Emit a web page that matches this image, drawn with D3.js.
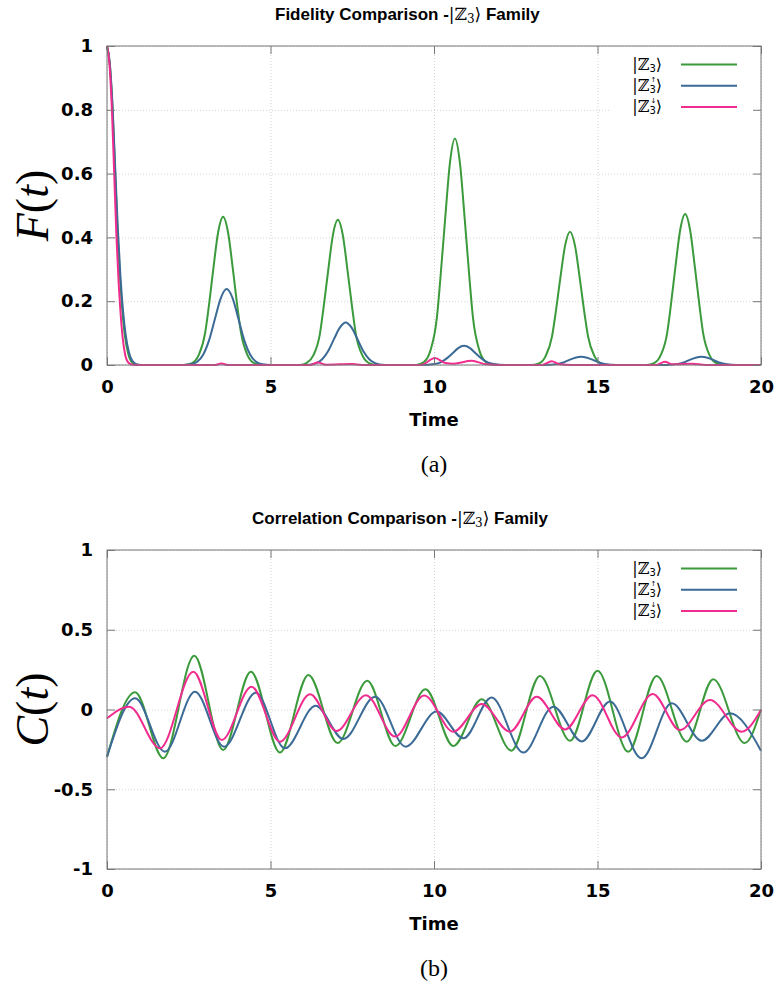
<!DOCTYPE html>
<html lang="en">
<head>
<meta charset="UTF-8"/>
<title>Z3 family fidelity and correlation</title>
<script src="https://d3js.org/d3.v7.min.js"></script>
<style>
  body { margin: 0; background: #fff; }
  svg { display: block; }
  .tick text { font-family: "DejaVu Sans", sans-serif; font-weight: bold; font-size: 18px; fill: #000; }
</style>
</head>
<body>
<script>
// time ticks shared by both panels
var timeTicks = [0, 5, 10, 15, 20];
var fidTicks = [0, 0.2, 0.4, 0.6, 0.8, 1];
var corTicks = [-1, -0.5, 0, 0.5, 1];
var seriesColors = ["#3b9a3b", "#3a6a95", "#f02d8e"];

// fidelity F(t) as [t, F]
var fidZ3 = [[0,1],[0.08,0.95],[0.17,0.8],[0.25,0.6],[0.32,0.42],[0.4,0.27],[0.47,0.17],[0.55,0.09],[0.65,0.035],[0.75,0.01],[0.9,0.001],[1.1,0],
  [2.35,0],[2.6,0.006],[2.8,0.03],[3.0,0.1],[3.1,0.173],[3.25,0.3],[3.4,0.417],[3.55,0.465],[3.7,0.417],[3.85,0.3],[4.0,0.173],[4.1,0.1],[4.3,0.03],[4.5,0.006],[4.75,0],
  [5.9,0],[6.1,0.006],[6.31,0.03],[6.51,0.097],[6.61,0.17],[6.76,0.293],[6.91,0.408],[7.06,0.455],[7.21,0.408],[7.36,0.293],[7.51,0.17],[7.61,0.097],[7.81,0.03],[8.01,0.006],[8.25,0],
  [9.45,0],[9.69,0.009],[9.89,0.045],[10.09,0.15],[10.19,0.265],[10.34,0.457],[10.49,0.636],[10.64,0.71],[10.79,0.636],[10.94,0.457],[11.09,0.265],[11.19,0.15],[11.39,0.045],[11.59,0.009],[11.85,0],
  [12.95,0],[13.21,0.005],[13.41,0.027],[13.61,0.09],[13.71,0.156],[13.86,0.27],[14.01,0.375],[14.16,0.418],[14.31,0.375],[14.46,0.27],[14.61,0.156],[14.71,0.09],[14.91,0.027],[15.11,0.005],[15.35,0],
  [16.5,0],[16.73,0.006],[16.93,0.03],[17.13,0.1],[17.23,0.176],[17.38,0.305],[17.53,0.424],[17.68,0.473],[17.83,0.424],[17.98,0.305],[18.13,0.176],[18.23,0.1],[18.43,0.03],[18.63,0.006],[18.9,0],[20,0]];

var fidZ3up = [[0,1],[0.08,0.95],[0.17,0.81],[0.25,0.62],[0.33,0.43],[0.41,0.28],[0.49,0.17],[0.57,0.095],[0.67,0.04],[0.78,0.012],[0.92,0.002],[1.15,0],
  [2.31,0],[2.56,0.002],[2.76,0.01],[2.94,0.032],[3.12,0.077],[3.3,0.144],[3.48,0.21],[3.66,0.238],[3.84,0.21],[4.02,0.144],[4.2,0.077],[4.38,0.032],[4.56,0.01],[4.76,0.002],[5.01,0],
  [5.95,0],[6.2,0.001],[6.4,0.006],[6.58,0.018],[6.76,0.043],[6.94,0.081],[7.12,0.117],[7.3,0.133],[7.48,0.117],[7.66,0.081],[7.84,0.043],[8.02,0.018],[8.2,0.006],[8.4,0.001],[8.65,0],
  [9.6,0],[10.02,0.003],[10.2,0.008],[10.38,0.02],[10.56,0.036],[10.74,0.053],[10.92,0.06],[11.1,0.053],[11.28,0.036],[11.46,0.02],[11.64,0.008],[11.82,0.003],[12.2,0],
  [13.4,0],[13.78,0.0035],[13.96,0.008],[14.14,0.016],[14.32,0.023],[14.5,0.026],[14.68,0.023],[14.86,0.016],[15.04,0.008],[15.22,0.0035],[15.6,0],
  [17.1,0],[17.46,0.0035],[17.64,0.008],[17.82,0.016],[18.0,0.023],[18.18,0.026],[18.36,0.023],[18.54,0.016],[18.72,0.008],[18.9,0.0035],[19.3,0],[20,0]];

var fidZ3down = [[0,1],[0.07,0.95],[0.15,0.8],[0.22,0.6],[0.29,0.4],[0.36,0.25],[0.41,0.17],[0.48,0.085],[0.56,0.03],[0.65,0.008],[0.78,0.001],[0.95,0],
  [3.3,0],[3.5,0.005],[3.7,0],[6.2,0],[6.45,0.008],[6.7,0.001],[7.5,0.003],[7.8,0],[9.6,0],[10.03,0.022],[10.35,0.006],[10.6,0.004],[11.15,0.013],[11.6,0.002],[12,0],
  [13.3,0],[13.6,0.012],[13.85,0.002],[14.2,0],[16.8,0],[17.06,0.01],[17.3,0.002],[17.9,0.004],[18.3,0],[20,0]];

// correlation C(t), turning points as [t, C]
var corZ3 = [[0,-0.297],[0.86,0.108],[1.72,-0.305],[2.67,0.337],[3.55,-0.254],[4.4,0.237],[5.29,-0.27],[6.16,0.216],[7.05,-0.21],[7.96,0.18],[8.82,-0.229],[9.74,0.127],[10.59,-0.229],[11.46,0.064],[12.37,-0.258],[13.24,0.21],[14.16,-0.196],[15.0,0.243],[15.94,-0.265],[16.81,0.21],[17.73,-0.202],[18.54,0.19],[19.5,-0.21],[20,0.0]];
var corZ3up = [[0,-0.296],[0.86,0.07],[1.77,-0.265],[2.69,0.112],[3.58,-0.233],[4.55,0.105],[5.44,-0.243],[6.38,0.024],[7.23,-0.185],[8.2,0.08],[9.13,-0.233],[10.08,-0.013],[10.9,-0.18],[11.76,0.075],[12.73,-0.27],[13.65,0.018],[14.52,-0.2],[15.38,0.05],[16.35,-0.306],[17.27,0.039],[18.19,-0.196],[19.05,-0.024],[20,-0.258]];
var corZ3down = [[0,-0.055],[0.68,0.018],[1.62,-0.243],[2.64,0.237],[3.51,-0.191],[4.42,0.143],[5.29,-0.202],[6.21,0.095],[7.02,-0.135],[7.92,0.09],[8.81,-0.17],[9.7,0.088],[10.59,-0.139],[11.46,0.034],[12.32,-0.139],[13.14,0.08],[14.01,-0.125],[14.85,0.09],[15.74,-0.175],[16.69,0.097],[17.52,-0.129],[18.44,0.06],[19.41,-0.139],[20,-0.003]];

var W = 777, H = 992;
var svg = d3.select("body").append("svg").attr("width", W).attr("height", H);

var left = 107, right = 761;

function panel(opts) {
  var g = svg.append("g");
  var x = d3.scaleLinear().domain([0, 20]).range([left, right]);
  var y = d3.scaleLinear().domain(opts.ydom).range([opts.bottom, opts.top]);
  var pw = right - left, ph = opts.bottom - opts.top;

  // dotted grid
  g.append("g").attr("transform", "translate(0," + opts.bottom + ")")
    .call(d3.axisBottom(x).tickValues(timeTicks).tickSize(-ph).tickFormat(""))
    .call(function(a){ a.select(".domain").remove(); a.selectAll("line").attr("stroke", "#d4d4d4").attr("stroke-dasharray", "1,2"); });
  g.append("g").attr("transform", "translate(" + left + ",0)")
    .call(d3.axisLeft(y).tickValues(opts.yticks).tickSize(-pw).tickFormat(""))
    .call(function(a){ a.select(".domain").remove(); a.selectAll("line").attr("stroke", "#d4d4d4").attr("stroke-dasharray", "1,2"); });

  var line = d3.line().x(function(d){ return x(d[0]); }).y(function(d){ return y(d[1]); }).curve(d3.curveMonotoneX);
  opts.series.forEach(function(s, i) {
    g.append("path").datum(s).attr("d", line).attr("fill", "none")
      .attr("stroke", seriesColors[i]).attr("stroke-width", 2);
  });

  // legend (opaque key)
  var lg = g.append("g");
  lg.append("rect").attr("x", 609).attr("y", opts.top + 1.5).attr("width", 147).attr("height", 70).attr("fill", "#fff");
  [null, "\u2191", "\u2193"].forEach(function(arrow, i) {
    var ly = opts.top + 18.5 + i * 21.2;
    ket(lg, 662, ly + 5, arrow, 16);
    lg.append("line").attr("x1", 681).attr("x2", 737).attr("y1", ly).attr("y2", ly)
      .attr("stroke", seriesColors[i]).attr("stroke-width", 2);
  });

  // border
  g.append("rect").attr("x", left).attr("y", opts.top).attr("width", pw).attr("height", ph)
    .attr("fill", "none").attr("stroke", "#777").attr("stroke-width", 1);

  // ticks, inward, mirrored
  var tickStyle = function(a){ a.select(".domain").remove(); a.selectAll("line").attr("stroke", "#777"); };
  g.append("g").attr("transform", "translate(0," + opts.bottom + ")")
    .call(d3.axisBottom(x).tickValues(timeTicks).tickSize(-8).tickPadding(15).tickFormat(d3.format("d"))).call(tickStyle);
  g.append("g").attr("transform", "translate(0," + opts.top + ")")
    .call(d3.axisTop(x).tickValues(timeTicks).tickSize(-8).tickFormat("")).call(tickStyle);
  g.append("g").attr("transform", "translate(" + left + ",0)")
    .call(d3.axisLeft(y).tickValues(opts.yticks).tickSize(-8).tickPadding(14).tickFormat(function(d){ return String(d); })).call(tickStyle);
  g.append("g").attr("transform", "translate(" + right + ",0)")
    .call(d3.axisRight(y).tickValues(opts.yticks).tickSize(-8).tickFormat("")).call(tickStyle);

  // x label
  g.append("text").attr("x", (left + right) / 2).attr("y", opts.bottom + 61).attr("text-anchor", "middle")
    .style("font-family", "'DejaVu Sans', sans-serif").style("font-weight", "bold").style("font-size", "18px").text("Time");

  // y label F(t) / C(t)
  var yl = g.append("text").attr("transform", "translate(" + 48 + "," + ((opts.top + opts.bottom) / 2) + ") rotate(-90)")
    .attr("text-anchor", "middle").style("font-family", "'Liberation Serif', serif").style("font-size", "46px");
  yl.append("tspan").style("font-style", "italic").text(opts.ysym);
  yl.append("tspan").text("(");
  yl.append("tspan").style("font-style", "italic").text("t");
  yl.append("tspan").text(")");

  // title
  var tt = g.append("text").attr("x", opts.titleX).attr("y", opts.top - 26)
    .style("font-family", "'Liberation Sans', Arial, sans-serif").style("font-weight", "bold").style("font-size", "17px");
  tt.append("tspan").text(opts.title + " -");
  tt.append("tspan").style("font-family", "'DejaVu Serif', serif").style("font-weight", "normal").text("|\u2124");
  tt.append("tspan").style("font-family", "'DejaVu Serif', serif").style("font-weight", "normal").style("font-size", "12px").attr("dy", 3).text("3");
  tt.append("tspan").style("font-family", "'DejaVu Serif', serif").style("font-weight", "normal").attr("dy", -3).text("\u27E9");
  tt.append("tspan").text(" Family");

  // panel caption
  g.append("text").attr("x", (left + right) / 2).attr("y", opts.bottom + 107).attr("text-anchor", "middle")
    .style("font-family", "'Liberation Serif', serif").style("font-size", "24px").text(opts.caption);
}

// |Z_3> ket with optional arrow stacked over the subscript, right-aligned at xr
function ket(g, xr, yb, arrow, fs) {
  var t = g.append("text").attr("x", 0).attr("y", yb)
    .style("font-family", "'DejaVu Serif', serif").style("font-size", fs + "px");
  t.append("tspan").text("|\u2124");
  t.append("tspan").style("font-size", "10px").style("font-family", "'DejaVu Sans', sans-serif").attr("dy", 2.5).text("3");
  var sup = null;
  if (arrow) sup = t.append("tspan").style("font-size", "7px").style("font-family", "'DejaVu Sans', sans-serif").attr("dy", -11.2).text(arrow);
  var close = t.append("tspan").attr("dy", arrow ? 8.7 : -2.5).text("\u27E9");
  var n = t.node();
  var subX = n.getStartPositionOfChar(2).x, subEnd = n.getEndPositionOfChar(2).x;
  if (sup) sup.attr("x", subX + 1);
  close.attr("x", subEnd);
  var w = n.getBBox();
  t.attr("transform", "translate(" + (xr - (w.x + w.width)) + ",0)");
}

panel({ top: 46, bottom: 365, ydom: [0, 1], yticks: fidTicks, ysym: "F", title: "Fidelity Comparison", titleX: 275,
  caption: "(a)", series: [fidZ3, fidZ3up, fidZ3down] });
panel({ top: 550, bottom: 869, ydom: [-1, 1], yticks: corTicks, ysym: "C", title: "Correlation Comparison", titleX: 252,
  caption: "(b)", series: [corZ3, corZ3up, corZ3down] });
</script>
</body>
</html>
